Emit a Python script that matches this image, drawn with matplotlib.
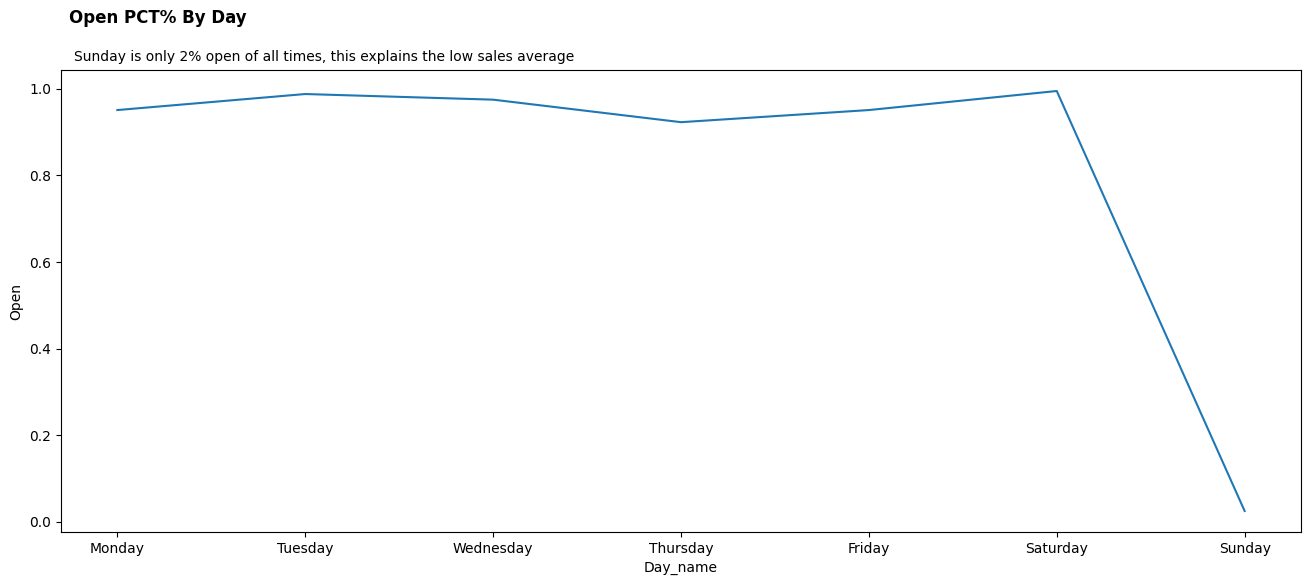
import matplotlib
matplotlib.use("Agg")
import matplotlib.pyplot as plt

days = ["Monday", "Tuesday", "Wednesday", "Thursday", "Friday", "Saturday", "Sunday"]
open_pct = [0.951, 0.988, 0.975, 0.923, 0.951, 0.995, 0.025]

fig = plt.figure(figsize=(13.11, 5.85), dpi=100)
ax = fig.add_axes([61/1311, 53/585, (1301-61)/1311, (532-70)/585])
ax.plot(days, open_pct, color="#1f77b4", linewidth=1.5)
ax.set_xlabel("Day_name")
ax.set_ylabel("Open")
ax.set_yticks([0.0, 0.2, 0.4, 0.6, 0.8, 1.0])
fig.text(74/1311, 1 - 57/585, "Sunday is only 2% open of all times, this explains the low sales average",
         fontsize=10, ha="left", va="center")
fig.text(69/1311, 1 - 18/585, "Open PCT% By Day", fontsize=12, fontweight="bold", ha="left", va="center")
fig.savefig("out.png", dpi=100)
